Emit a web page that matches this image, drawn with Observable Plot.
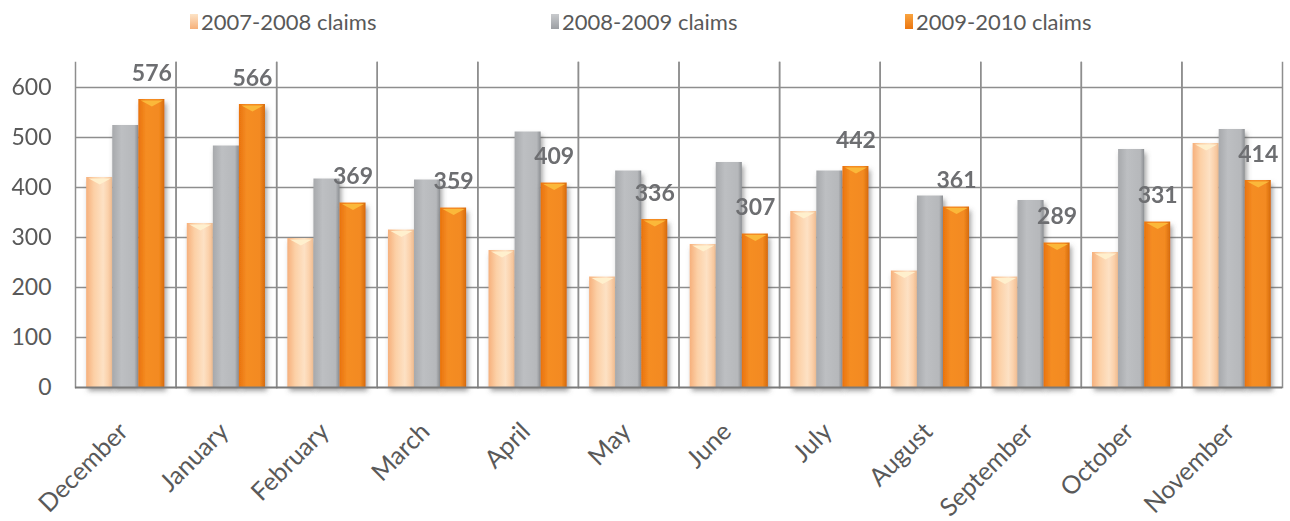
<!DOCTYPE html>
<html>
<head>
<meta charset="utf-8">
<script src="https://cdn.jsdelivr.net/npm/d3@7"></script>
<script src="https://cdn.jsdelivr.net/npm/@observablehq/plot@0.6"></script>
<style>
  html, body { margin: 0; padding: 0; background: #fff; }
  #legend { position: relative; width: 1290px; height: 45px; font-family: Lato, "Open Sans", sans-serif; font-size: 22px; color: #595959; }
  .item { position: absolute; top: 8px; display: flex; align-items: center; }
  .sw { width: 8px; height: 15px; margin-right: 3px; }
</style>
</head>
<body>
<div id="legend"></div>
<div id="chart"></div>
<script>
const months = ["December","January","February","March","April","May","June","July","August","September","October","November"];
const seriesNames = ["2007-2008 claims","2008-2009 claims","2009-2010 claims"];
const claims0708 = [420, 328, 298, 315, 274, 221, 286, 352, 233, 221, 270, 488];
const claims0809 = [524, 483, 417, 415, 511, 433, 450, 433, 383, 374, 476, 516];
const claims0910 = [576, 566, 369, 359, 409, 336, 307, 442, 361, 289, 331, 414];
const yTicks = [0, 100, 200, 300, 400, 500, 600];

const seriesValues = [claims0708, claims0809, claims0910];
const gradIds = ["gLight", "gGray", "gOrange"];
const legendCss = [
  "linear-gradient(180deg,#fde3c6,#f6b07a)",
  "linear-gradient(180deg,#c8cacd,#9c9fa3)",
  "linear-gradient(180deg,#f9a440,#ec760f)"
];
const legendLeft = [190, 551, 905];

const data = [];
seriesNames.forEach((s, si) => months.forEach((m, mi) => data.push({month: m, series: s, value: seriesValues[si][mi]})));

// legend
const leg = document.getElementById("legend");
seriesNames.forEach((s, i) => {
  const it = document.createElement("div");
  it.className = "item";
  it.style.left = legendLeft[i] + "px";
  it.innerHTML = `<div class="sw" style="background:${legendCss[i]}"></div><span>${s}</span>`;
  leg.appendChild(it);
});

// flat downward chevron used as the bevel highlight on top of bars
const chevron = {
  draw(context, size) {
    const r = Math.sqrt(size / Math.PI);
    context.moveTo(-r, 0);
    context.lineTo(r, 0);
    context.lineTo(0, r * 0.55);
    context.closePath();
  }
};

const gridColor = "#8e8e8e";
const chart = Plot.plot({
  width: 1290,
  height: 476,
  marginLeft: 75,
  marginRight: 8,
  marginTop: 17,
  marginBottom: 134,
  style: {fontFamily: "Lato, 'Open Sans', sans-serif", fontSize: "23px", color: "#595959", background: "#fff"},
  fx: {domain: months, padding: 0, round: false},
  x: {domain: seriesNames, paddingInner: 0, paddingOuter: 0.43, round: false, axis: null},
  y: {domain: [0, 650]},
  marks: [
    Plot.ruleY(yTicks.slice(1), {stroke: gridColor, strokeWidth: 1.5}),
    Plot.frame({anchor: "left", stroke: gridColor, strokeWidth: 1.5}),
    Plot.frame({anchor: "right", stroke: gridColor, strokeWidth: 1.5}),
    ...seriesNames.map((s, i) => Plot.barY(data.filter(d => d.series === s), {
      fx: "month", x: "series", y: "value", fill: `url(#${gradIds[i]})`
    })),
    Plot.dot(data.filter(d => d.series === seriesNames[0]), {
      fx: "month", x: "series", y: "value", symbol: chevron, r: 11, dy: 1,
      fill: "#fff2cf", fillOpacity: 0.9, stroke: "none"
    }),
    Plot.dot(data.filter(d => d.series === seriesNames[2]), {
      fx: "month", x: "series", y: "value", symbol: chevron, r: 11, dy: 1,
      fill: "#fbb83a", stroke: "none"
    }),
    Plot.ruleY([0], {stroke: "#7a7a7a", strokeWidth: 2}),
    Plot.text(data.filter(d => d.series === seriesNames[2]), {
      fx: "month", x: "series", y: "value", text: d => String(d.value),
      dy: -26, fontWeight: "bold", fontSize: 23, fill: "#6d6e71"
    }),
    Plot.axisY({ticks: yTicks, tickSize: 0, tickPadding: 24, fontSize: 23, label: null}),
    Plot.axisFx({anchor: "bottom", tickRotate: -45, tickSize: 0, tickPadding: 40, dx: -2, fontSize: 25, label: null})
  ]
});

// gradients and shadow
const ns = "http://www.w3.org/2000/svg";
const defs = document.createElementNS(ns, "defs");
const gradStops = {
  gLight: [[0, "#f6b07c"], [0.3, "#fcd0a6"], [0.65, "#fde1c4"], [1, "#f9c395"]],
  gGray: [[0, "#a7a9ac"], [0.35, "#bdbfc2"], [0.85, "#b6b8bb"], [1, "#8c8f93"]],
  gOrange: [[0, "#e9730d"], [0.3, "#f58d24"], [0.8, "#f38a20"], [1, "#d56a0c"]]
};
for (const [id, stops] of Object.entries(gradStops)) {
  const g = document.createElementNS(ns, "linearGradient");
  g.setAttribute("id", id);
  g.setAttribute("x1", "0"); g.setAttribute("x2", "1"); g.setAttribute("y1", "0"); g.setAttribute("y2", "0");
  for (const [o, c] of stops) {
    const st = document.createElementNS(ns, "stop");
    st.setAttribute("offset", o); st.setAttribute("stop-color", c);
    g.appendChild(st);
  }
  defs.appendChild(g);
}
const f = document.createElementNS(ns, "filter");
f.setAttribute("id", "shadow");
f.setAttribute("x", "-20%"); f.setAttribute("y", "-10%"); f.setAttribute("width", "140%"); f.setAttribute("height", "130%");
f.innerHTML = '<feDropShadow dx="2" dy="4" stdDeviation="2.5" flood-color="#555" flood-opacity="0.55"/>';
defs.appendChild(f);
chart.insertBefore(defs, chart.firstChild);
chart.querySelectorAll('g[aria-label="bar"]').forEach(g => g.setAttribute("filter", "url(#shadow)"));

document.getElementById("chart").appendChild(chart);
</script>
</body>
</html>
